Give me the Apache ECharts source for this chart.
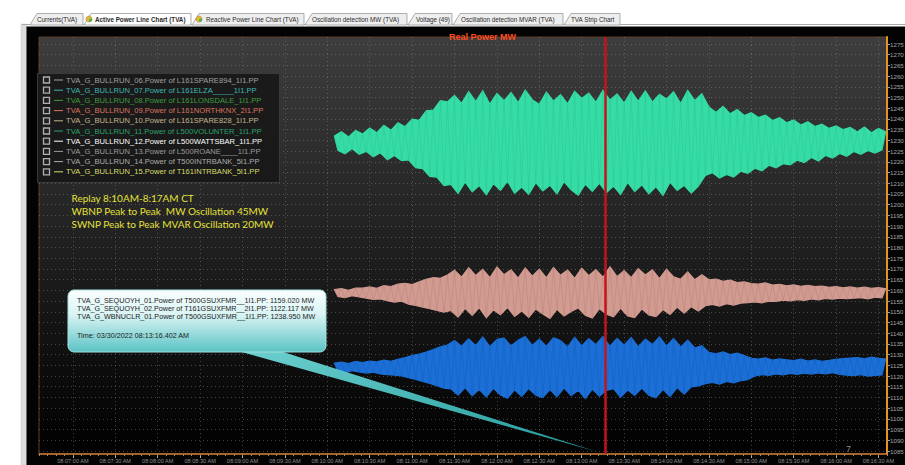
<!DOCTYPE html>
<html><head><meta charset="utf-8">
<script src="https://cdn.jsdelivr.net/npm/echarts@6/dist/echarts.min.js"></script>
<style>html,body{margin:0;padding:0;background:#fff;overflow:hidden}#c{width:905px;height:465px}</style>
</head><body><div id="c"></div>
<script>
// ---------------- data ----------------
const tabLabels = ['Currents(TVA)', 'Active Power Line Chart (TVA)', 'Reactive Power Line Chart (TVA)',
  'Oscillation detection MW (TVA)', 'Voltage (49)', 'Oscillation detection MVAR (TVA)', 'TVA Strip Chart'];
const chartTitle = 'Real Power MW';
const xTickLabels = ['08:07:00 AM','08:07:30 AM','08:08:00 AM','08:08:30 AM','08:09:00 AM','08:09:30 AM',
  '08:10:00 AM','08:10:30 AM','08:11:00 AM','08:11:30 AM','08:12:00 AM','08:12:30 AM','08:13:00 AM',
  '08:13:30 AM','08:14:00 AM','08:14:30 AM','08:15:00 AM','08:15:30 AM','08:16:00 AM','08:16:30 AM'];
const yTickLabels = [1275,1270,1265,1260,1255,1250,1245,1240,1235,1230,1225,1220,1215,1210,1205,1200,
  1195,1190,1185,1180,1175,1170,1165,1160,1155,1150,1145,1140,1135,1130,1125,1120,1115,1110,1105,1100,1095,1090,1085];
const viewStart = '08:06:36 AM', viewEnd = '08:16:36 AM';
const sampleStart = '08:10:05 AM', sampleStepSec = 2.5;   // alternating peak / trough readings
const wbnuclr01 = [ // TVA_G_WBNUCLR_01 (green)
  1232.0,1225.4,1234.1,1223.8,1231.6,1226.2,1234.6,1223.5,
  1233.0,1224.9,1235.8,1222.3,1233.6,1224.2,1237.0,1221.0,1234.7,1223.0,1238.2,1220.6,1236.4,
  1220.9,1239.9,1217.3,1239.4,1216.8,1243.8,1213.2,
  1244.1,1212.9,1248.5,1208.9,1248.0,
  1209.5,1251.0,1205.2,1247.3,1210.6,1252.8,1206.0,1248.1,1208.9,1253.2,
  1204.6,1246.9,1209.8,1251.9,1206.7,1248.5,1211.0,1252.4,1205.3,1247.6,
  1208.2,1253.5,1204.9,1249.0,1210.3,1246.8,1206.4,1252.6,1209.1,1248.3,
  1205.0,1251.4,1210.8,1247.1,1206.9,1253.0,1204.4,1249.6,1209.6,1252.1,
  1206.2,1247.8,1210.1,1253.4,1205.6,1248.8,1208.7,1251.7,1204.8,1247.4,
  1210.4,1252.9,1206.1,1248.2,1209.3,1253.1,1205.1,1247.9,1208.4,1251.5,
  1204.3,1249.3,1210.5,1252.7,1206.6,1247.2,1209.0,1253.3,1205.4,1248.6,
  1208.6,1251.8,
  1213.7,1245.6,1214.9,1243.0,1212.4,1245.9,1214.1,1242.4,1212.9,1244.4,1215.6,1241.6,1214.6,
  1242.9,1217.0,1240.7,1215.8,1241.8,1218.4,1239.3,1217.2,1240.6,1219.1,1238.2,1218.6,1239.6,1220.8,
  1237.2,1219.7,1238.7,1222.0,1236.5,1220.4,1237.6,1223.0,1235.6,1221.8,1236.8,1223.9,1235.0,1222.6,1236.1,
  1224.8,1233.9,1223.5,1236.2,1225.3,1233.6,1224.1,1235.6,1225.6,1234.0
];
const sequoyh01 = [ // TVA_G_SEQUOYH_01 (pink)
  1160.4,1157.2,1160.8,1156.6,1160.0,1157.5,1161.1,1156.9,
  1161.0,1156.4,1161.6,1155.8,1160.9,1156.0,1162.2,1155.2,1161.8,1154.5,1162.9,1154.9,1163.3,1153.6,1162.7,1153.0,1164.0,
  1152.2,1165.1,1151.4,1166.0,1150.6,1165.6,1149.8,1167.2,
  1150.6,1169.4,1147.5,1166.2,1151.6,1170.6,1148.3,1166.9,1151.9,1169.8,
  1147.2,1165.9,1150.9,1170.9,1148.6,1167.3,1152.1,1169.6,1147.8,1165.7,
  1150.4,1170.4,1147.4,1166.6,1151.3,1169.9,1148.9,1165.8,1146.9,1170.7,
  1151.2,1167.0,1148.0,1169.5,1150.1,1165.6,1151.8,1170.3,1148.4,1166.8,
  1147.1,1169.7,1151.5,1166.1,1148.8,1171.0,1147.6,1166.4,1151.7,1169.2,
  1148.1,1165.9,1147.3,1170.1,1151.4,1167.2,1148.5,1169.6,1147.7,1165.5,
  1151.0,1169.9,1148.7,1166.3,1152.2,1165.2,1149.3,1168.6,1152.4,1164.9,
  1150.3,1167.3,
  1152.8,1164.9,1153.4,1165.3,1152.6,1164.2,1153.8,1164.8,1153.1,1163.6,1154.0,1164.0,1154.3,
  1163.2,1154.6,1162.9,1154.2,1163.5,1155.0,1162.5,1154.8,1162.8,1155.4,1162.1,1155.1,1162.6,1155.7,
  1161.9,1155.3,1162.3,1156.0,1161.7,1155.6,1162.0,1156.2,1161.4,1155.9,1161.8,1156.4,1161.2,1156.1,1161.6,
  1156.3,1161.0,1156.6,1161.5,1156.0,1160.9,1156.8,1161.3,1156.5,1160.8
];
const sequoyh02 = [ // TVA_G_SEQUOYH_02 (blue)
  1126.0,1122.2,1126.5,1121.6,1125.8,1122.5,1126.8,1121.9,
  1126.3,1121.4,1127.0,1121.8,1126.6,1121.0,1127.4,1120.7,1126.9,1120.4,1127.8,1120.0,
  1128.6,1119.2,1129.5,1118.4,1130.3,1117.5,1131.2,1116.6,1132.4,1115.5,
  1133.6,1114.3,1134.5,
  1114.0,1136.6,1111.1,1133.9,1114.6,1137.4,1110.7,1134.2,1113.8,1138.2,
  1110.2,1133.7,1114.3,1137.0,1111.2,1137.8,1109.6,1134.0,1113.6,1136.7,
  1110.5,1138.4,1114.2,1134.3,1111.0,1137.2,1109.9,1133.8,1113.7,1137.9,
  1110.3,1136.6,1114.5,1133.5,1110.8,1138.1,1113.4,1134.1,1109.5,1137.5,
  1113.9,1134.6,1110.6,1138.5,1113.3,1133.9,1114.1,1137.6,1110.0,1134.4,
  1113.5,1138.0,1110.9,1133.6,1114.4,1137.3,1111.0,1134.7,1109.8,1138.3,
  1113.8,1134.0,1110.4,1137.6,1114.6,1133.5,1111.5,1136.8,1114.9,1133.1,
  1115.4,1134.2,
  1116.4,1131.0,1117.0,1130.4,1116.2,1131.3,1117.5,1130.0,1116.8,1130.7,1117.8,1129.6,1118.3,
  1128.3,1120.0,1127.9,1120.6,1128.5,1120.3,1127.4,1121.0,1128.0,1120.5,1127.6,1121.2,1127.2,1120.8,
  1127.9,1121.3,1127.0,1120.9,1127.5,1121.4,1126.9,1121.0,1127.3,1121.6,1127.8,1120.7,1128.1,1120.4,1128.4,
  1120.2,1128.6,1120.6,1128.0,1119.9,1128.8,1120.3,1128.2,1120.5,1127.9
];
const cursorTime = '08:13:16.402 AM';
const legendNames = [
  'TVA_G_BULLRUN_06.Power of L161SPARE894_1I1.PP',
  'TVA_G_BULLRUN_07.Power of L161ELZA_____1I1.PP',
  'TVA_G_BULLRUN_08.Power of L161LONSDALE_1I1.PP',
  'TVA_G_BULLRUN_09.Power of L161NORTHKNX_2I1.PP',
  'TVA_G_BULLRUN_10.Power of L161SPARE828_1I1.PP',
  'TVA_G_BULLRUN_11.Power of L500VOLUNTER_1I1.PP',
  'TVA_G_BULLRUN_12.Power of L500WATTSBAR_1I1.PP',
  'TVA_G_BULLRUN_13.Power of L500ROANE____1I1.PP',
  'TVA_G_BULLRUN_14.Power of T500INTRBANK_5I1.PP',
  'TVA_G_BULLRUN_15.Power of T161INTRBANK_5I1.PP'];
const notes = ['Replay 8:10AM-8:17AM CT', 'WBNP Peak to Peak  MW Oscillation 45MW', 'SWNP Peak to Peak MVAR Oscillation 20MW'];
const tipNames = ['TVA_G_SEQUOYH_01.Power of T500GSUXFMR__1I1.PP', 'TVA_G_SEQUOYH_02.Power of T161GSUXFMR__2I1.PP', 'TVA_G_WBNUCLR_01.Power of T500GSUXFMR__1I1.PP'];
const tipValues = ['1159.020', '1122.117', '1238.950'];
const tipTime = 'Time: 03/30/2022 08:13:16.402 AM';

// ---------------- styles ----------------
const legendColors = ['#a0a0a0','#3fb6b2','#3c9c3c','#dc735f','#c6b68e','#2aa26c','#ffffff','#9c9c9c','#acacac','#d6de6c'];
const seriesColors = {
  green:{fill:'#36dca6', streak:'#1f9e76'},
  pink:{fill:'#d29b91', streak:'#8f615a'},
  blue:{fill:'#1b6fd6', streak:'#0f4a94'}
};

function toSec(s) {
  const m = s.match(/(\d+):(\d+):([\d.]+)\s*(AM|PM)?/);
  let h = +m[1]; if (m[4] === 'PM' && h < 12) h += 12; if (m[4] === 'AM' && h === 12) h = 0;
  return h * 3600 + (+m[2]) * 60 + parseFloat(m[3]);
}
const xTickSecs = xTickLabels.map(toSec);
const t0 = toSec(sampleStart);
const toPairs = arr => arr.map((v, i) => [t0 + i * sampleStepSec, v]);
const xMin = toSec(viewStart), xMax = toSec(viewEnd);

const G = {left: 39, top: 37, width: 848, height: 417, outerBoundsMode: 'none', containLabel: false};
const yMin = 1083.6, yMax = 1278.27;

const chart = echarts.init(document.getElementById('c'), null, {renderer: 'svg', width: 905, height: 465});

const elements = [];
// page frame
elements.push({type:'rect', z:-100, shape:{x:21, y:24, width:6, height:441}, style:{fill:'#dedede', stroke:'#c8c8c8', lineWidth:0.5}});
elements.push({type:'rect', z:-99, shape:{x:26.5, y:26.5, width:879, height:439}, style:{fill:'#030303'}});
// tabs
const tabBox = [[30,83],[84,191],[192,304],[305,407],[408,452],[453,563],[564,620]];
const tabText = [37, 95, 206, 312, 416, 461, 571];
elements.push({type:'line', z:50, shape:{x1:22, y1:24.5, x2:905, y2:24.5}, style:{stroke:'#a9a9a9', lineWidth:1}});
const order = [0,2,3,4,5,6,1];
order.forEach(i => {
  const [a, b] = tabBox[i];
  const active = i === 1;
  elements.push({type:'polygon', z: active ? 52 : 51, shape:{points:[[a, 25],[a + 7, 13.5],[b, 13.5],[b, 25]]},
    style:{fill: active ? '#ffffff' : '#eeeeee', stroke:'#9a9a9a', lineWidth:0.8}});
  elements.push({type:'text', z:53, style:{text: tabLabels[i], x: tabText[i], y: 19.5, verticalAlign:'middle',
    font: (active ? 'bold ' : '') + '6.3px "Liberation Sans"', fill:'#2a2a2a'}});
});
[[89, 19],[199, 19]].forEach(([x, y]) => {
  elements.push({type:'circle', z:54, shape:{cx:x, cy:y, r:3}, style:{fill:'#e9b934', stroke:'#8a6a10', lineWidth:0.5}});
  elements.push({type:'circle', z:55, shape:{cx:x + 1.5, cy:y + 1.2, r:1.6}, style:{fill:'#4caf50'}});
});
// legend box
elements.push({type:'rect', z:60, shape:{x:37.5, y:73.5, width:242, height:109}, style:{fill:'rgba(24,24,24,0.94)', stroke:'#3a3a3a', lineWidth:1}});
legendNames.forEach((name, i) => {
  const y = 80 + i * 10.2;
  elements.push({type:'rect', z:61, shape:{x:43.5, y:y - 3, width:6, height:6}, style:{fill:'#202020', stroke:'#b0b0b0', lineWidth:1.3}});
  elements.push({type:'line', z:61, shape:{x1:54, y1:y, x2:63, y2:y}, style:{stroke:legendColors[i], lineWidth:1}});
  elements.push({type:'text', z:61, style:{text:name, x:66, y:y, verticalAlign:'middle', font:'7.6px "Liberation Sans"', fill:legendColors[i]}});
});
// notes
notes.forEach((t, i) => {
  elements.push({type:'text', z:62, style:{text:t, x:71.5, y:197.5 + i * 13.4, verticalAlign:'middle', font:'10px Lato', fill:'#e6e23a'}});
});
// tooltip callout
elements.push({type:'polygon', z:63, shape:{points:[[238, 351],[280, 351],[598, 452]]},
  style:{fill:{type:'linear', x:0, y:0, x2:1, y2:1, colorStops:[{offset:0, color:'#6ccfcf'},{offset:1, color:'#23999a'}]}}});
elements.push({type:'rect', z:64, shape:{x:68, y:290, width:258, height:62, r:6},
  style:{fill:{type:'linear', x:0, y:0, x2:0, y2:1, colorStops:[{offset:0, color:'#fbffff'},{offset:0.4, color:'#d9f3f3'},{offset:1, color:'#5ac3c5'}]}, stroke:'#a5e0e0', lineWidth:1}});
tipNames.forEach((n, i) => {
  elements.push({type:'text', z:65, style:{text: n + ': ' + tipValues[i] + ' MW', x:77, y:300.7 + i * 7.7, verticalAlign:'middle', font:'7.2px "Liberation Sans"', fill:'#1c1c1c'}});
});
elements.push({type:'text', z:65, style:{text:tipTime, x:77, y:335.7, verticalAlign:'middle', font:'7.2px "Liberation Sans"', fill:'#1c1c1c'}});
elements.push({type:'text', z:65, style:{text:'7', x:846, y:449, verticalAlign:'middle', font:'9px "Liberation Sans"', fill:'#8a8a8a'}});

// band = filled envelope through the peak readings and back through the trough readings,
// plus the zig-zag trace itself drawn thin and darker on top.
function bandSeries(name, arr, col, extra) {
  const pairs = toPairs(arr);
  const fillSeries = {
    type:'custom', name, data: pairs, silent:true, animation:false, clip:true, xAxisIndex:0, yAxisIndex:0,
    renderItem: (params, api) => {
      if (params.dataIndex !== 0) return null;
      const top = [], bottom = [];
      pairs.forEach((p, i) => (i % 2 === 0 ? top : bottom).push(api.coord(p)));
      return {type:'polygon', shape:{points: top.concat(bottom.reverse())},
        style:{fill: col.fill, stroke: col.fill, lineWidth: 1.2, lineJoin:'miter'}};
    }
  };
  const traceSeries = Object.assign({
    type:'line', name, data: pairs, showSymbol:false, symbol:'none', silent:true, animation:false,
    lineStyle:{color: col.streak, width:0.6, opacity:0.3}, itemStyle:{color: col.fill}, xAxisIndex:0, yAxisIndex:0
  }, extra || {});
  return [fillSeries, traceSeries];
}

chart.setOption({
  animation:false,
  backgroundColor:'transparent',
  title:{text:chartTitle, left:444, top:27.5, textStyle:{color:'#ff4b1e', fontSize:9, fontWeight:'bold', fontFamily:'"Liberation Sans"'}},
  grid:[
    Object.assign({show:true, borderColor:'#5a3e2a', borderWidth:1,
      backgroundColor:{type:'linear', x:0, y:0, x2:0, y2:1, colorStops:[{offset:0, color:'#3d3d3d'},{offset:0.45, color:'#232323'},{offset:1, color:'#000000'}]}}, G),
    Object.assign({show:false}, G)
  ],
  xAxis:[{
    type:'value', gridIndex:0, min:xMin, max:xMax, interval:6, position:'bottom',
    axisLine:{show:true, lineStyle:{color:'#d27a2e', width:1.5}},
    axisTick:{show:true, customValues:xTickSecs, length:4, lineStyle:{color:'#b0b0b0'}},
    axisLabel:{show:true, customValues:xTickSecs, color:'#8e8e8e', fontSize:5.6, fontFamily:'"Liberation Sans"', margin:4, hideOverlap:false,
      formatter: v => { const k = xTickSecs.findIndex(s => Math.abs(s - v) < 0.01); return k >= 0 ? xTickLabels[k] : ''; }},
    splitLine:{show:true, lineStyle:{color:'rgba(140,140,140,0.45)', type:[1,3], width:1}}
  },{
    type:'value', gridIndex:1, min:xMin, max:xMax, interval:6, position:'bottom',
    axisLine:{show:false}, axisTick:{show:true, length:2, lineStyle:{color:'#8a8a8a'}},
    axisLabel:{show:false}, splitLine:{show:false}
  }],
  yAxis:[{
    type:'value', gridIndex:0, position:'right', min:yMin, max:yMax,
    axisLine:{show:true, lineStyle:{color:'#e8921f', width:2}},
    axisTick:{show:true, customValues:yTickLabels, length:3, lineStyle:{color:'#9a9a9a'}},
    axisLabel:{show:true, customValues:yTickLabels, color:'#a4a4a4', fontSize:6.2, fontFamily:'"Liberation Sans"', margin:3, hideOverlap:false,
      formatter: v => String(v)},
    splitLine:{show:true, lineStyle:{color:'rgba(140,140,140,0.45)', type:[1,3], width:1}}
  },{
    type:'value', gridIndex:1, position:'right', min:yMin, max:yMax, show:false
  }],
  series:[
    ...bandSeries('TVA_G_WBNUCLR_01', wbnuclr01, seriesColors.green),
    ...bandSeries('TVA_G_SEQUOYH_01', sequoyh01, seriesColors.pink),
    ...bandSeries('TVA_G_SEQUOYH_02', sequoyh02, seriesColors.blue, {
      markLine:{symbol:'none', silent:true, animation:false, label:{show:false},
        lineStyle:{color:'#c4141c', width:2.5, type:'solid', opacity:1}, data:[{xAxis: toSec(cursorTime)}]}
    }),
    {type:'line', xAxisIndex:1, yAxisIndex:1, data:[], silent:true}
  ],
  graphic:{elements}
});
</script></body></html>
